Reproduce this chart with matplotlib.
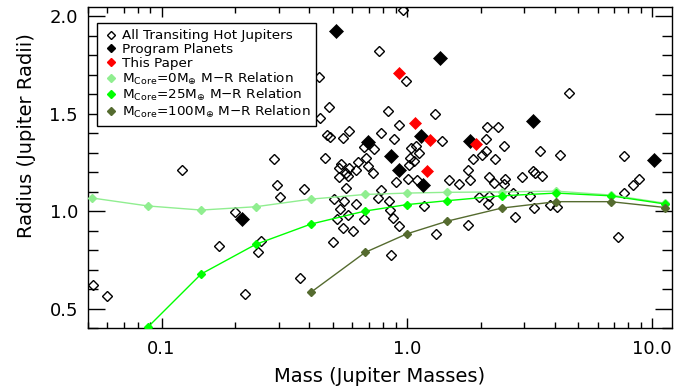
import matplotlib
matplotlib.use("Agg")
import matplotlib.pyplot as plt
from matplotlib.lines import Line2D
from matplotlib.ticker import FixedLocator, MultipleLocator, NullFormatter

# ---------------- data ----------------
open_mass = [0.0527, 0.0601, 0.1215, 0.1992, 0.1716, 0.2533, 0.2463, 0.2196, 0.2868, 0.2960,
             0.3039, 0.381, 0.3657, 0.961, 0.772, 0.4383, 0.991, 0.4827, 0.4424, 0.835,
             1.302, 0.928, 0.4723, 0.484, 0.5483, 0.5833, 0.7844, 0.888, 1.396, 0.4619,
             0.671, 0.737, 0.682, 0.631, 0.5398, 0.5283, 0.5833, 0.693, 0.5656, 0.621,
             0.726, 0.531, 0.5735, 0.902, 0.5656, 0.504, 0.5535, 0.5349, 0.621, 0.5726,
             0.5186, 0.6675, 0.5483, 0.602, 0.4995, 0.7844, 0.7648, 0.848, 0.856, 0.880,
             0.8637, 1.038, 1.088, 1.115, 1.028, 1.070, 1.022,
             2.125, 2.355, 2.105, 2.481, 2.092, 2.015, 2.275, 1.858, 1.780, 2.157,
             2.504, 4.585, 3.497, 4.187, 7.662, 3.254, 3.337, 3.552, 2.947, 8.842,
             2.261, 2.481, 8.358, 7.662, 2.157, 2.137, 2.699, 3.184, 3.284, 3.838,
             4.087, 2.75, 7.266, 1.012, 1.098, 1.484, 1.630, 1.801, 1.169, 1.965,
             1.780, 1.320, 0.931]
open_radius = [0.623, 0.566, 1.208, 0.995, 0.822, 0.844, 0.790, 0.573, 1.268, 1.131,
               1.071, 1.114, 0.657, 2.031, 1.821, 1.689, 1.667, 1.534, 1.476, 1.514,
               1.497, 1.439, 1.391, 1.382, 1.374, 1.413, 1.399, 1.369, 1.361, 1.271,
               1.328, 1.317, 1.271, 1.254, 1.242, 1.220, 1.220, 1.232, 1.195, 1.208,
               1.195, 1.177, 1.181, 1.148, 1.118, 1.061, 1.049, 1.010, 1.036, 0.981,
               0.959, 0.959, 0.913, 0.899, 0.839, 1.109, 1.067, 1.053, 1.007, 0.964,
               0.775, 1.323, 1.334, 1.297, 1.271, 1.258, 1.237,
               1.433, 1.430, 1.369, 1.331, 1.310, 1.288, 1.268, 1.266, 1.208, 1.174,
               1.164, 1.607, 1.309, 1.288, 1.280, 1.203, 1.195, 1.182, 1.177, 1.165,
               1.146, 1.140, 1.135, 1.092, 1.075, 1.036, 1.092, 1.078, 1.018, 1.029,
               1.020, 0.969, 0.865, 1.164, 1.160, 1.157, 1.138, 1.160, 1.027, 1.070,
               0.930, 0.884, 0.921]

program_mass = [0.2135, 0.512, 1.365, 0.692, 0.861, 0.93, 1.14, 1.158, 1.80, 3.27, 10.14]
program_radius = [0.959, 1.925, 1.787, 1.356, 1.28, 1.211, 1.386, 1.135, 1.361, 1.462, 1.263]

paper_mass = [0.925, 1.078, 1.243, 1.92, 1.205]
paper_radius = [1.71, 1.449, 1.365, 1.343, 1.206]

core0_mass = [0.052, 0.088, 0.145, 0.242, 0.406, 0.676, 1.0, 1.46, 2.43, 4.06, 6.77, 11.3]
core0_radius = [1.067, 1.026, 1.005, 1.022, 1.061, 1.085, 1.092, 1.096, 1.098, 1.102, 1.082, 1.040]

core25_mass = [0.088, 0.145, 0.242, 0.406, 0.676, 1.0, 1.46, 2.43, 4.06, 6.77, 11.3]
core25_radius = [0.405, 0.677, 0.829, 0.933, 1.0, 1.033, 1.053, 1.078, 1.092, 1.078, 1.036]

core100_mass = [0.406, 0.676, 1.0, 1.46, 2.43, 4.06, 6.77, 11.3]
core100_radius = [0.583, 0.788, 0.883, 0.948, 1.015, 1.048, 1.048, 1.018]

x_ticks = [0.1, 1.0, 10.0]
x_ticklabels = ["0.1", "1.0", "10.0"]
y_ticks = [0.5, 1.0, 1.5, 2.0]
y_ticklabels = ["0.5", "1.0", "1.5", "2.0"]

labels = ["All Transiting Hot Jupiters", "Program Planets", "This Paper",
          r"M$_{\rm Core}$=0M$_{\oplus}$ M$-$R Relation",
          r"M$_{\rm Core}$=25M$_{\oplus}$ M$-$R Relation",
          r"M$_{\rm Core}$=100M$_{\oplus}$ M$-$R Relation"]

c_light = "#90EE90"
c_bright = "#00FF00"
c_dark = "#556B2F"

# ---------------- figure ----------------
plt.rcParams["font.family"] = ["DejaVu Sans"]
plt.rcParams["mathtext.fontset"] = "dejavusans"
fig = plt.figure(figsize=(6.9, 3.89), dpi=100)
ax = fig.add_axes([87.7 / 690, 61 / 389, 584 / 690, 320.7 / 389])

ax.plot(open_mass, open_radius, linestyle="none", marker="D", ms=4.9,
        mfc="none", mec="black", mew=1.0, zorder=2)
ax.plot(core0_mass, core0_radius, color=c_light, lw=1.0, marker="D", ms=4.0,
        mec=c_light, mfc=c_light, zorder=3)
ax.plot(core25_mass, core25_radius, color=c_bright, lw=1.0, marker="D", ms=4.0,
        mec=c_bright, mfc=c_bright, zorder=3)
ax.plot(core100_mass, core100_radius, color=c_dark, lw=1.0, marker="D", ms=4.0,
        mec=c_dark, mfc=c_dark, zorder=3)
ax.plot(program_mass, program_radius, linestyle="none", marker="D", ms=6.8,
        mfc="black", mec="black", mew=0.5, zorder=4)
ax.plot(paper_mass, paper_radius, linestyle="none", marker="D", ms=6.6,
        mfc="red", mec="red", mew=0.5, zorder=5)

ax.set_xscale("log")
ax.set_xlim(0.05, 12.0)
ax.set_ylim(0.4, 2.045)

ax.xaxis.set_major_locator(FixedLocator(x_ticks))
ax.set_xticklabels(x_ticklabels)
ax.xaxis.set_minor_locator(FixedLocator(
    [m * 10.0 ** e for e in (-2, -1, 0, 1) for m in range(2, 10)]))
ax.xaxis.set_minor_formatter(NullFormatter())
ax.set_yticks(y_ticks)
ax.set_yticklabels(y_ticklabels)
ax.yaxis.set_minor_locator(MultipleLocator(0.1))

ax.tick_params(axis="both", which="both", direction="in", top=True, right=True,
               width=1.0, colors="black", labelsize=13)
ax.tick_params(axis="x", which="major", length=7, pad=9)
ax.tick_params(axis="x", which="minor", length=4)
ax.tick_params(axis="y", which="major", length=12, pad=7)
ax.tick_params(axis="y", which="minor", length=7)
for s in ax.spines.values():
    s.set_linewidth(1.0)
    s.set_color("black")

ax.set_xlabel("Mass (Jupiter Masses)", fontsize=14)
ax.set_ylabel("Radius (Jupiter Radii)", fontsize=14)
ax.xaxis.set_label_coords(0.5, -0.122)
ax.yaxis.set_label_coords(-0.088, 0.6)

handles = [
    Line2D([], [], linestyle="none", marker="D", ms=4.5, mfc="none", mec="black", mew=1.0),
    Line2D([], [], linestyle="none", marker="D", ms=4.5, mfc="black", mec="black"),
    Line2D([], [], linestyle="none", marker="D", ms=4.5, mfc="red", mec="red"),
    Line2D([], [], linestyle="none", marker="D", ms=4.5, mfc=c_light, mec=c_light),
    Line2D([], [], linestyle="none", marker="D", ms=4.5, mfc=c_bright, mec=c_bright),
    Line2D([], [], linestyle="none", marker="D", ms=4.5, mfc=c_dark, mec=c_dark),
]
leg = ax.legend(handles, labels, loc="upper left", bbox_to_anchor=(0.0154, 0.950),
                borderaxespad=0, fontsize=9.7, frameon=True, fancybox=False,
                edgecolor="black", framealpha=1, handlelength=1.2,
                handletextpad=0.2, borderpad=0.45, labelspacing=0.05)
leg.get_frame().set_linewidth(1.0)

fig.savefig("out.png", dpi=100)
